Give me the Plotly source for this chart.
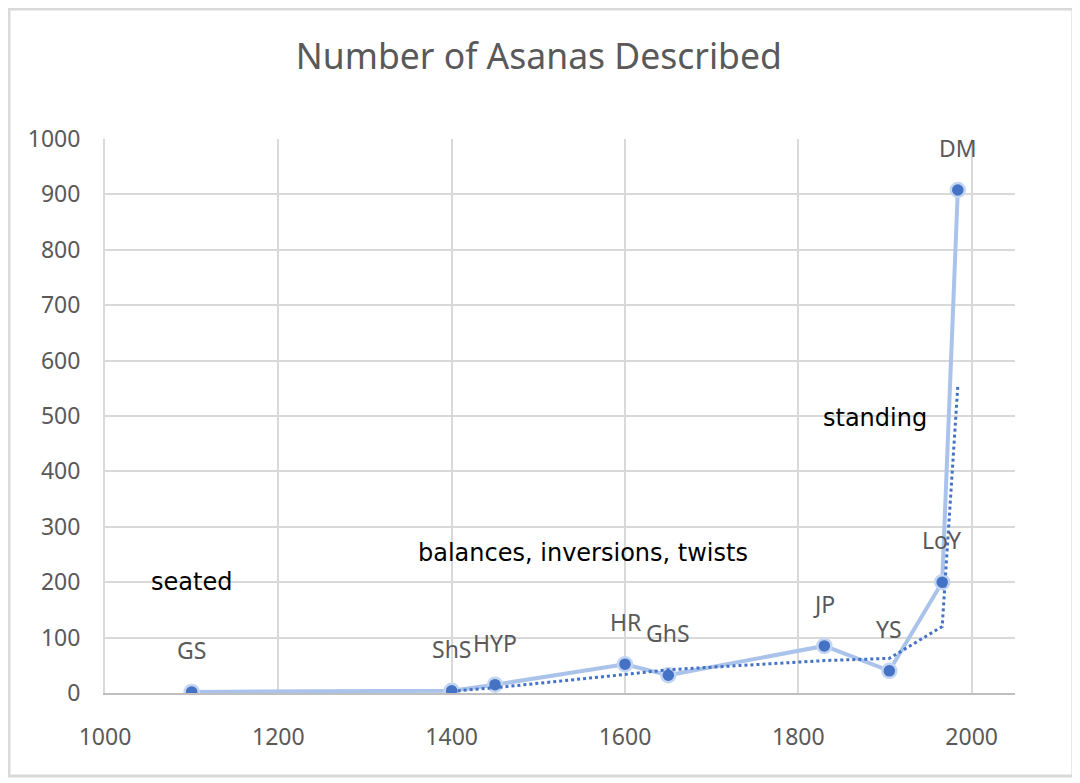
import plotly.graph_objects as go

labels = ["GS", "ShS", "HYP", "HR", "GhS", "JP", "YS", "LoY", "DM"]
years = [1100, 1400, 1450, 1600, 1650, 1830, 1905, 1966, 1984]
asanas = [2, 4, 15, 52, 32, 85, 40, 200, 908]

notes = ["seated", "balances, inversions, twists", "standing"]
note_x = [1100, 1551, 1889]
note_y = [200, 252, 496]

x_ticks = [1000, 1200, 1400, 1600, 1800, 2000]
y_ticks = [0, 100, 200, 300, 400, 500, 600, 700, 800, 900, 1000]

# 2-period moving average trendline (Excel style)
ma_x = years[1:]
ma_y = [(asanas[i - 1] + asanas[i]) / 2 for i in range(1, len(asanas))]

fig = go.Figure()
fig.add_trace(go.Scatter(
    x=years, y=asanas, mode="lines+markers",
    line=dict(color="#AAC3EA", width=4),
    marker=dict(color="#4472C4", size=14, line=dict(color="#C3D5F1", width=2.5)),
    hoverinfo="x+y", showlegend=False,
))
fig.add_trace(go.Scatter(
    x=ma_x, y=ma_y, mode="lines",
    line=dict(color="#4472C4", width=3, dash="dot"),
    showlegend=False,
))

annotations = []
for lab, xv, yv in zip(labels, years, asanas):
    annotations.append(dict(x=xv, y=yv, text=lab, showarrow=False, yshift=42,
                            font=dict(family="Noto Sans", size=23, color="#595959")))
for t, xv, yv in zip(notes, note_x, note_y):
    annotations.append(dict(x=xv, y=yv, text=t, showarrow=False,
                            font=dict(family="DejaVu Sans", size=24, color="#000000")))

fig.update_layout(
    width=1080, height=783,
    margin=dict(l=97, r=73, t=131, b=98),
    paper_bgcolor="white", plot_bgcolor="white",
    title=dict(text="Number of Asanas Described", x=0.4915, xanchor="center",
               y=0.938, yanchor="middle",
               font=dict(family="Noto Sans", size=35.5, color="#595959")),
    annotations=annotations,
    shapes=[dict(type="rect", xref="paper", yref="paper",
                 x0=-0.1055, x1=1.0637, y0=-0.1498, y1=1.2347,
                 line=dict(color="#D9D9D9", width=3))],
)
fig.update_xaxes(range=[1000, 2050], tickvals=x_ticks, showgrid=True,
                 gridcolor="#D9D9D9", gridwidth=2, zeroline=False,
                 showline=True, linecolor="#BFBFBF", linewidth=2,
                 ticks="", ticklabelstandoff=22,
                 tickfont=dict(family="Noto Sans", size=23, color="#595959"))
fig.update_yaxes(range=[0, 1000], tickvals=y_ticks, showgrid=True,
                 gridcolor="#D9D9D9", gridwidth=2, zeroline=False,
                 showline=True, linecolor="#D9D9D9", linewidth=2,
                 ticks="", ticklabelstandoff=18,
                 tickfont=dict(family="Noto Sans", size=23, color="#595959"))

fig.write_html("out.html")
